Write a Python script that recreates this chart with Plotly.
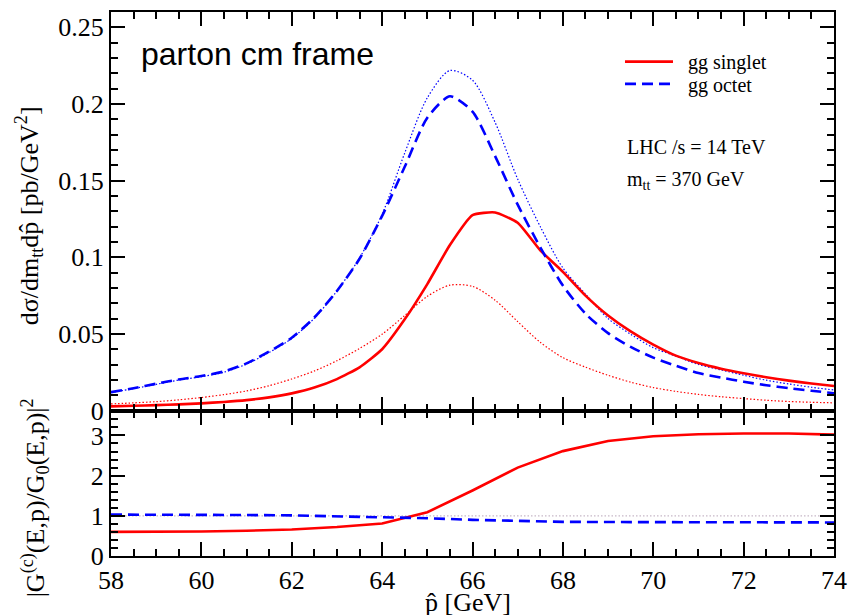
import plotly.graph_objects as go
from plotly.subplots import make_subplots

# ---------------- data ----------------
p_hat = [58, 58.5, 59, 59.5, 60, 60.5, 61, 61.5, 62, 62.5, 63, 63.5, 64, 64.5, 65, 65.5,
         66, 66.5, 67, 67.5, 68, 68.5, 69, 69.5, 70, 70.5, 71, 71.5, 72, 72.5, 73, 73.5, 74]

singlet = [0.0027, 0.0031, 0.0035, 0.0040, 0.0047, 0.0056, 0.0068, 0.0086, 0.0112, 0.0150,
           0.0205, 0.0282, 0.0400, 0.0595, 0.0825, 0.1080, 0.1275, 0.1292, 0.1225, 0.1045,
           0.0905, 0.0750, 0.0620, 0.0516, 0.0430, 0.0358, 0.0310, 0.0273, 0.0243, 0.0217,
           0.0195, 0.0176, 0.0160]

singlet_g0 = [0.0043, 0.0050, 0.0058, 0.0070, 0.0085, 0.0104, 0.0128, 0.0162, 0.0206, 0.0258,
              0.0325, 0.0405, 0.0498, 0.0620, 0.0745, 0.0818, 0.0810, 0.0720, 0.0580, 0.0445,
              0.0345, 0.0283, 0.0230, 0.0185, 0.0150, 0.0125, 0.0105, 0.0090, 0.0078, 0.0067,
              0.0059, 0.0054, 0.0050]

octet = [0.0120, 0.0146, 0.0175, 0.0203, 0.0225, 0.0255, 0.0308, 0.0385, 0.0475, 0.0607,
         0.0780, 0.0990, 0.1270, 0.1590, 0.1910, 0.2050, 0.1950, 0.1660, 0.1343, 0.1065,
         0.0815, 0.0632, 0.0505, 0.0415, 0.0345, 0.0292, 0.0245, 0.0215, 0.0188, 0.0165,
         0.0146, 0.0129, 0.0113]

octet_g0 = [0.0117, 0.0143, 0.0171, 0.0199, 0.0221, 0.0250, 0.0303, 0.0379, 0.0470, 0.0602,
            0.0780, 0.0995, 0.1280, 0.1680, 0.2040, 0.2218, 0.2155, 0.1880, 0.1510, 0.1200,
            0.0930, 0.0760, 0.0600, 0.0498, 0.0410, 0.0355, 0.0300, 0.0265, 0.0230, 0.0198,
            0.0173, 0.0152, 0.0134]

ratio_x = [58, 59, 60, 61, 62, 63, 64, 65, 66, 67, 68, 69, 70, 71, 72, 73, 74]
ratio_singlet = [0.60, 0.60, 0.61, 0.63, 0.66, 0.72, 0.81, 1.09, 1.63, 2.20, 2.61, 2.86,
                 2.98, 3.03, 3.05, 3.05, 3.02]
ratio_octet = [1.03, 1.03, 1.02, 1.02, 1.01, 0.99, 0.97, 0.94, 0.90, 0.87, 0.85, 0.845,
               0.84, 0.835, 0.835, 0.835, 0.835]

unity_x = [58, 74]
unity_y = [1, 1]

# ---------------- figure ----------------
fig = make_subplots(rows=2, cols=1, shared_xaxes=True, vertical_spacing=0,
                    row_heights=[400, 146])

RED = "#ff0000"
BLUE = "#0000ff"
SERIF = "Liberation Serif"
PAD = "\u00a0\u00a0"

fig.add_trace(go.Scatter(x=p_hat, y=singlet_g0, mode="lines", showlegend=False,
                         line=dict(color=RED, width=1.2, dash="1.5px,2px",
                                   shape="spline", smoothing=0.8)), row=1, col=1)
fig.add_trace(go.Scatter(x=p_hat, y=octet_g0, mode="lines", showlegend=False,
                         line=dict(color=BLUE, width=1.2, dash="1.5px,2px",
                                   shape="spline", smoothing=0.8)), row=1, col=1)
fig.add_trace(go.Scatter(x=p_hat, y=singlet, mode="lines", name=PAD + "gg singlet",
                         legend="legend",
                         line=dict(color=RED, width=2.6, shape="spline", smoothing=0.5)),
              row=1, col=1)
fig.add_trace(go.Scatter(x=p_hat, y=octet, mode="lines", name=PAD + "gg octet",
                         legend="legend2",
                         line=dict(color=BLUE, width=2.6, dash="11px,6px",
                                   shape="spline", smoothing=0.7)), row=1, col=1)

fig.add_trace(go.Scatter(x=unity_x, y=unity_y, mode="lines", showlegend=False,
                         line=dict(color="#c8b8c8", width=1.2, dash="1.5px,2px")), row=2, col=1)
fig.add_trace(go.Scatter(x=ratio_x, y=ratio_singlet, mode="lines", showlegend=False,
                         line=dict(color=RED, width=2.6)), row=2, col=1)
fig.add_trace(go.Scatter(x=ratio_x, y=ratio_octet, mode="lines", showlegend=False,
                         line=dict(color=BLUE, width=2.6, dash="11px,6px")), row=2, col=1)

tick_font = dict(family=SERIF, size=26, color="black")
common = dict(showline=True, linecolor="black", linewidth=2, mirror="allticks",
              ticks="inside", ticklen=14, tickwidth=1.5, tickcolor="black",
              showgrid=False, zeroline=False)

fig.update_xaxes(**common, range=[58, 74], tick0=58, dtick=2,
                 minor=dict(ticks="inside", ticklen=7, tickwidth=1.5, tickcolor="black",
                            dtick=0.5, tick0=58, showgrid=False))
fig.update_xaxes(showticklabels=False, row=1, col=1)
fig.update_xaxes(ticklabelstandoff=0, tickfont=tick_font, row=2, col=1)

fig.update_yaxes(**common)
fig.update_yaxes(range=[0, 0.26], tick0=0, dtick=0.05, ticklabelstandoff=0,
                 tickfont=tick_font,
                 minor=dict(ticks="inside", ticklen=7, tickwidth=1.5, tickcolor="black",
                            dtick=0.01, tick0=0, showgrid=False), row=1, col=1)
fig.update_yaxes(range=[0, 3.62], tick0=0, dtick=1, ticklabelstandoff=0,
                 tickfont=tick_font,
                 minor=dict(ticks="inside", ticklen=7, tickwidth=1.5, tickcolor="black",
                            dtick=0.2, tick0=0, showgrid=False), row=2, col=1)

ann_font = dict(family=SERIF, size=20, color="black")
leg_common = dict(xanchor="left", yanchor="top", font=ann_font,
                  bgcolor="rgba(0,0,0,0)", itemwidth=48)
fig.update_layout(
    width=857, height=615,
    font=dict(family=SERIF, size=26, color="black"),
    margin=dict(l=111, r=19, t=10, b=59),
    paper_bgcolor="white", plot_bgcolor="white",
    legend=dict(x=0.704, y=0.9447, **leg_common),
    legend2=dict(x=0.704, y=0.9038, **leg_common),
    annotations=[
        dict(text="parton cm frame", xref="paper", yref="paper", x=0.0385, y=0.923,
             xanchor="left", yanchor="middle", showarrow=False,
             font=dict(family="Liberation Sans", size=32, color="black")),
        dict(text="LHC /s = 14 TeV", xref="paper", yref="paper", x=0.711, y=0.751,
             xanchor="left", yanchor="middle", showarrow=False, font=ann_font),
        dict(text="m<sub>tt</sub> = 370 GeV", xref="paper", yref="paper", x=0.711, y=0.690,
             xanchor="left", yanchor="middle", showarrow=False, font=ann_font),
        dict(text="d\u03c3/dm<sub>tt</sub>dp\u0302 [pb/GeV<sup>2</sup>]", xref="paper",
             yref="paper", x=0, xshift=-82, y=0.6245, xanchor="center", yanchor="middle",
             textangle=-90, showarrow=False, font=dict(family=SERIF, size=26, color="black")),
        dict(text="|G<sup>(c)</sup>(E,p)/G<sub>0</sub>(E,p)|<sup>2</sup>", xref="paper",
             yref="paper", x=0, xshift=-76, y=0.106, xanchor="center", yanchor="middle",
             textangle=-90, showarrow=False, font=dict(family=SERIF, size=26, color="black")),
        dict(text="p\u0302 [GeV]", xref="paper", yref="paper", x=0.494, y=-0.085,
             xanchor="center", yanchor="middle", showarrow=False,
             font=dict(family=SERIF, size=26, color="black")),
    ],
)

fig.write_html("out.html")
